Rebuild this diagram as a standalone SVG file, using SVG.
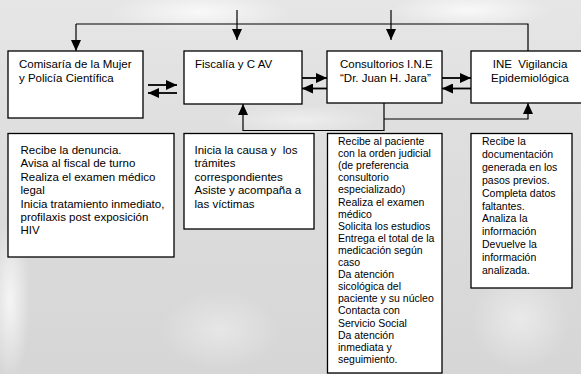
<svg xmlns="http://www.w3.org/2000/svg" width="581" height="374" viewBox="0 0 581 374">
<style>
text{font-family:"Liberation Sans",Arial,sans-serif;fill:#000;white-space:pre}
.t{font-size:11.5px}
.s{font-size:10.5px}
.box{fill:#fff;stroke:#000;stroke-width:1.3}
.ln{fill:none;stroke:#000;stroke-width:1.2}
.th{fill:none;stroke:#000;stroke-width:1.8}
</style>
<defs>
<marker id="ah" markerUnits="userSpaceOnUse" markerWidth="11" markerHeight="10" refX="11" refY="5" orient="auto">
<path d="M0,0 L11,5 L0,10 z" fill="#000"/>
</marker>
<radialGradient id="wg">
<stop offset="0" stop-color="#fff" stop-opacity="0.75"/>
<stop offset="1" stop-color="#fff" stop-opacity="0"/>
</radialGradient>
<linearGradient id="bg" x1="0" y1="0" x2="0" y2="1">
<stop offset="0" stop-color="#e6e6e6"/>
<stop offset="0.5" stop-color="#dcdcdc"/>
<stop offset="1" stop-color="#d6d6d6"/>
</linearGradient>
</defs>
<rect width="581" height="374" fill="url(#bg)"/>
<ellipse cx="200" cy="12" rx="90" ry="20" fill="url(#wg)"/>
<ellipse cx="470" cy="10" rx="80" ry="18" fill="url(#wg)"/>
<ellipse cx="10" cy="300" rx="20" ry="80" fill="url(#wg)"/>
<ellipse cx="220" cy="330" rx="60" ry="40" fill="url(#wg)" opacity="0.5"/>
<ellipse cx="520" cy="320" rx="50" ry="50" fill="url(#wg)" opacity="0.6"/>
<ellipse cx="300" cy="120" rx="80" ry="15" fill="url(#wg)" opacity="0.6"/>

<g id="connectors">
<path class="ln" d="M76,24 H528 V51"/>
<path class="ln" d="M76,24 V51" marker-end="url(#ah)"/>
<path class="ln" d="M237,10 V40" marker-end="url(#ah)"/>
<path class="ln" d="M391,10 V40" marker-end="url(#ah)"/>
<path class="th" d="M148,85 H177" marker-end="url(#ah)"/>
<path class="th" d="M177,93 H148" marker-end="url(#ah)"/>
<path class="th" d="M302,78 H327" marker-end="url(#ah)"/>
<path class="th" d="M327,88.5 H302" marker-end="url(#ah)"/>
<path class="th" d="M442,78 H471" marker-end="url(#ah)"/>
<path class="th" d="M471,88.5 H442" marker-end="url(#ah)"/>
<path class="ln" d="M384,103 V130.5 H243 V104" marker-end="url(#ah)"/>
<path class="ln" d="M384,119 H528 V103" marker-end="url(#ah)"/>
</g>

<g id="comisaria">
<rect class="box" x="8" y="51" width="135" height="67"/>
<text class="t" x="19" y="68">Comisaría de la Mujer</text>
<text class="t" x="19" y="81.5">y Policía Científica</text>
</g>
<g id="fiscalia">
<rect class="box" x="184" y="51" width="118" height="53"/>
<text class="t" x="195" y="68">Fiscalía y C AV</text>
</g>
<g id="consultorios">
<rect class="box" x="327" y="51" width="115" height="52"/>
<text class="t" x="340" y="68">Consultorios I.N.E</text>
<text class="t" x="340" y="81.5">“Dr. Juan H. Jara”</text>
</g>
<g id="ine">
<rect class="box" x="471" y="51" width="120" height="52"/>
<text class="t" x="530" y="68" text-anchor="middle">INE  Vigilancia</text>
<text class="t" x="530" y="81.5" text-anchor="middle">Epidemiológica</text>
</g>

<g id="comisaria-tareas">
<rect class="box" x="8" y="133.5" width="166" height="123.5"/>
<text class="t" x="20.5" y="154">Recibe la denuncia.</text>
<text class="t" x="20.5" y="167.4">Avisa al fiscal de turno</text>
<text class="t" x="20.5" y="180.8">Realiza el examen médico</text>
<text class="t" x="20.5" y="194.2">legal</text>
<text class="t" x="20.5" y="207.6">Inicia tratamiento inmediato,</text>
<text class="t" x="20.5" y="221">profilaxis post exposición</text>
<text class="t" x="20.5" y="234.4">HIV</text>
</g>
<g id="fiscalia-tareas">
<rect class="box" x="184" y="133.5" width="130" height="95.5"/>
<text class="t" x="194.5" y="154">Inicia la causa y  los</text>
<text class="t" x="194.5" y="167.4">trámites</text>
<text class="t" x="194.5" y="180.8">correspondientes</text>
<text class="t" x="194.5" y="194.2">Asiste y acompaña a</text>
<text class="t" x="194.5" y="207.6">las víctimas</text>
</g>
<g id="consultorios-tareas">
<rect class="box" x="327.5" y="133.5" width="114.5" height="239.5"/>
<text class="s" x="338" y="145">Recibe al paciente</text>
<text class="s" x="338" y="157.1">con la orden judicial</text>
<text class="s" x="338" y="169.2">(de preferencia</text>
<text class="s" x="338" y="181.3">consultorio</text>
<text class="s" x="338" y="193.4">especializado)</text>
<text class="s" x="338" y="205.5">Realiza el examen</text>
<text class="s" x="338" y="217.6">médico</text>
<text class="s" x="338" y="229.7">Solicita los estudios</text>
<text class="s" x="338" y="241.8">Entrega el total de la</text>
<text class="s" x="338" y="253.9">medicación según</text>
<text class="s" x="338" y="266">caso</text>
<text class="s" x="338" y="278.1">Da atención</text>
<text class="s" x="338" y="290.2">sicológica del</text>
<text class="s" x="338" y="302.3">paciente y su núcleo</text>
<text class="s" x="338" y="314.4">Contacta con</text>
<text class="s" x="338" y="326.5">Servicio Social</text>
<text class="s" x="338" y="338.6">Da atención</text>
<text class="s" x="338" y="350.7">inmediata y</text>
<text class="s" x="338" y="362.8">seguimiento.</text>
</g>
<g id="ine-tareas">
<rect class="box" x="471" y="133.5" width="101" height="154.5"/>
<text class="s" x="482" y="145">Recibe la</text>
<text class="s" x="482" y="157.9">documentación</text>
<text class="s" x="482" y="170.8">generada en los</text>
<text class="s" x="482" y="183.7">pasos previos.</text>
<text class="s" x="482" y="196.6">Completa datos</text>
<text class="s" x="482" y="209.5">faltantes.</text>
<text class="s" x="482" y="222.4">Analiza la</text>
<text class="s" x="482" y="235.3">información</text>
<text class="s" x="482" y="248.2">Devuelve la</text>
<text class="s" x="482" y="261.1">información</text>
<text class="s" x="482" y="274">analizada.</text>
</g>
</svg>
